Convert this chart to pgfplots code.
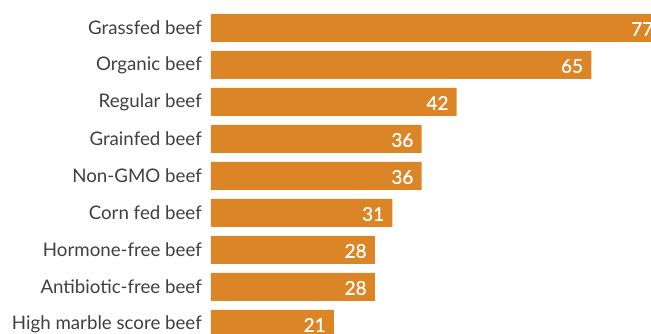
\documentclass[border=0pt]{standalone}
\usepackage{pgfplots}
\pgfplotsset{compat=1.18}
\usepackage{fontspec}
\setmainfont{Lato}
\newfontfamily\numfont{Lato}[FakeBold=0.8]
\definecolor{barorange}{RGB}{220,133,38}
\definecolor{labelgray}{RGB}{64,64,64}
\begin{document}
\begin{tikzpicture}[x=1pt,y=1pt]
\useasboundingbox (0,0) rectangle (651,334);
\clip (0,0) rectangle (651,334);
\begin{axis}[
  x=5.85pt, y=37pt,
  anchor=south west, at={(211pt,-8.5pt)},
  xbar, bar width=28pt,
  xmin=0, xmax=80, ymin=-0.5, ymax=8.5,
  axis line style={draw=none},
  ytick={0,...,8},
  yticklabels={High marble score beef, Antibiotic-free beef, Hormone-free beef, Corn fed beef, Non-GMO beef, Grainfed beef, Regular beef, Organic beef, Grassfed beef},
  xtick=\empty, major tick length=0pt,
  yticklabel style={font=\fontsize{18.7}{21}\selectfont, text=labelgray, anchor=east, inner sep=0pt, xshift=-9pt},
  nodes near coords,
  nodes near coords style={anchor=east, text=white, font=\numfont\fontsize{19}{21}\selectfont, inner sep=0pt, xshift=-8pt, yshift=-1pt},
  /pgf/number format/assume math mode=true,
]
\addplot[fill=barorange, draw=none] coordinates {(21,0) (28,1) (28,2) (31,3) (36,4) (36,5) (42,6) (65,7) (77,8)};
\end{axis}
\end{tikzpicture}
\end{document}
